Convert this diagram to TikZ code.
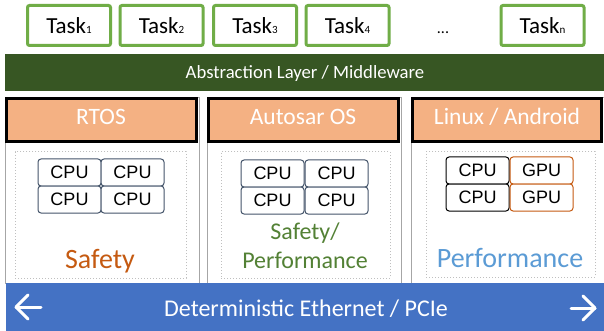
\documentclass[tikz,border=0pt]{standalone}
\usepackage{fontspec}
\usetikzlibrary{calc}
\setmainfont{Carlito}
\newfontfamily\arialf{Liberation Sans}
\definecolor{taskgreen}{HTML}{70AD47}
\definecolor{darkband}{HTML}{375623}
\definecolor{peach}{HTML}{F4B183}
\definecolor{busblue}{HTML}{4472C4}
\definecolor{safeor}{HTML}{C55A11}
\definecolor{safegreen}{HTML}{538135}
\definecolor{perfblue}{HTML}{5B9BD5}
\definecolor{slate}{HTML}{44546A}
\definecolor{panelgray}{HTML}{A6A6A6}
\definecolor{dotgray}{HTML}{BFBFBF}
\begin{document}
\begin{tikzpicture}[x=1pt,y=-1pt,
  taskbox/.style={draw=taskgreen,line width=3pt,rounded corners=2pt,fill=white,
    minimum width=83pt,minimum height=40pt,inner sep=0pt,font=\fontsize{23}{23}\selectfont},
  hdrbox/.style={draw=black,line width=3pt,fill=peach,inner sep=0pt,minimum height=43pt},
  hdrtext/.style={anchor=base,text=white,font=\fontsize{23.5}{23.5}\selectfont,inner sep=0pt},
  panel/.style={draw=panelgray,line width=0.8pt,fill=white},
  dotbox/.style={draw=dotgray,line width=1pt,dotted},
  cell/.style={draw=slate,line width=1pt,rounded corners=3pt,fill=white,
    minimum width=63pt,minimum height=27pt,inner sep=0pt,font=\arialf\fontsize{18}{18}\selectfont},
  bigtext/.style={anchor=base,inner sep=0pt},
  arrowline/.style={draw=white,line width=3pt,line cap=round,line join=round}
]
\useasboundingbox[fill=white] (0,0) rectangle (604,331);
\newcommand{\sub}[1]{{\fontsize{11}{11}\selectfont #1}}
% tasks
\node[taskbox] (t1) at (69,25.5) {Task\sub{1}};
\node[taskbox] (t2) at (161.5,25.5) {Task\sub{2}};
\node[taskbox] (t3) at (255,25.5) {Task\sub{3}};
\node[taskbox] (t4) at (347.5,25.5) {Task\sub{4}};
\node[bigtext,font=\fontsize{16}{16}\selectfont] (dots) at (443,34) {...};
\node[taskbox] (tn) at (542.5,25.5) {Task\sub{n}};
% abstraction layer
\node[fill=darkband,minimum width=600pt,minimum height=37pt,inner sep=0pt] (abs) at (304.5,72.5) {};
\node[bigtext,text=white,font=\fontsize{18.7}{18.7}\selectfont] (abstext) at (305,79) {Abstraction Layer / Middleware};
% panels
\node[panel,minimum width=194pt,minimum height=186pt,inner sep=0pt] (p1) at (102,190) {};
\node[panel,minimum width=194pt,minimum height=186pt,inner sep=0pt] (p2) at (304.5,190) {};
\node[panel,minimum width=196pt,minimum height=186pt,inner sep=0pt] (p3) at (509,190) {};
\node[dotbox,minimum width=171pt,minimum height=126pt,inner sep=0pt] (d1) at (100.5,215) {};
\node[dotbox,minimum width=169pt,minimum height=126pt,inner sep=0pt] (d2) at (305.5,215) {};
\node[dotbox,minimum width=169pt,minimum height=125pt,inner sep=0pt] (d3) at (510.5,214.5) {};
% headers
\node[hdrbox,minimum width=190pt] (h1) at (101.5,120) {};
\node[hdrbox,minimum width=190pt] (h2) at (303.5,120) {};
\node[hdrbox,minimum width=189pt] (h3) at (507,120) {};
\node[hdrtext] (h1t) at (101,125) {RTOS};
\node[hdrtext] (h2t) at (303,125) {Autosar OS};
\node[hdrtext] (h3t) at (507,125) {Linux / Android};
% CPU grids
\node[cell] (a11) at (69.5,172.5) {CPU};
\node[cell] (a12) at (132.5,172.5) {CPU};
\node[cell] (a21) at (69.5,199.5) {CPU};
\node[cell] (a22) at (132.5,199.5) {CPU};
\node[cell] (b11) at (272.5,173.5) {CPU};
\node[cell] (b12) at (336.5,173.5) {CPU};
\node[cell] (b21) at (272.5,200.5) {CPU};
\node[cell] (b22) at (336.5,200.5) {CPU};
\node[cell,draw=black] (c11) at (477.5,170.5) {CPU};
\node[cell,draw=safeor] (c12) at (541.5,170.5) {GPU};
\node[cell,draw=black] (c21) at (477.5,197.5) {CPU};
\node[cell,draw=safeor] (c22) at (541.5,197.5) {GPU};
% labels
\node[bigtext,text=safeor,font=\fontsize{28}{28}\selectfont] (s1) at (100,268) {Safety};
\node[bigtext,text=safegreen,font=\fontsize{24}{24}\selectfont] (s2a) at (305,239) {Safety/};
\node[bigtext,text=safegreen,font=\fontsize{24}{24}\selectfont] (s2b) at (305,268) {Performance};
\node[bigtext,text=perfblue,font=\fontsize{28}{28}\selectfont] (s3) at (510,267) {Performance};
% bus
\node[fill=busblue,minimum width=598pt,minimum height=48pt,inner sep=0pt] (bus) at (305,307) {};
\node[bigtext,text=white,font=\fontsize{24}{24}\selectfont] (bustext) at (306,316) {Deterministic Ethernet / PCIe};
\coordinate (la) at (16,307);
\coordinate (lb) at (41,307);
\coordinate (ra) at (595,308);
\coordinate (rb) at (571,308);
\draw[arrowline] (lb) -- (la);
\draw[arrowline] ($(la)+(12,-12)$) -- (la) -- ($(la)+(12,12)$);
\draw[arrowline] (rb) -- (ra);
\draw[arrowline] ($(ra)+(-12,-12)$) -- (ra) -- ($(ra)+(-12,12)$);
\end{tikzpicture}
\end{document}
